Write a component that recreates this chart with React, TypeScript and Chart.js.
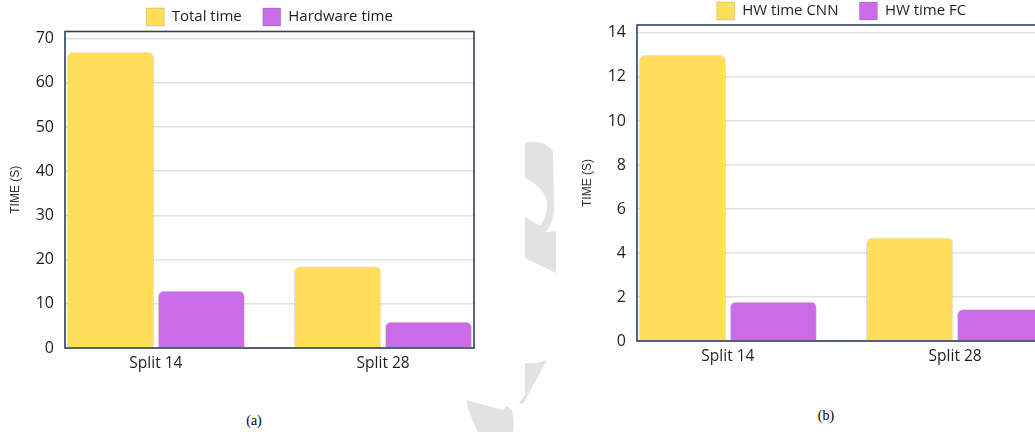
import { useEffect, useRef } from "react";
import { Chart, registerables } from "chart.js";

Chart.register(...registerables);

// ---- data ----
const splits = ["Split 14", "Split 28"];

// (a) end-to-end time vs. time spent on the accelerator
const totalTime = [67, 18.5];
const hardwareTime = [13, 6];
const yTicksA = [0, 10, 20, 30, 40, 50, 60, 70];
const yMaxA = 71.6;

// (b) hardware time broken down into CNN and FC parts
const hwTimeCnn = [13, 4.7];
const hwTimeFc = [1.8, 1.45];
const yTicksB = [0, 2, 4, 6, 8, 10, 12, 14];
const yMaxB = 14.36;

const YELLOW = "#FFDE59";
const PURPLE = "#CB6CE6";
const FRAME = "#2f405c";
const TEXT = "#1f1f1f";
const UI_FONT = "'Open Sans', sans-serif";

// Outline around the plot area, drawn on top of the bars.
const framePlugin = {
  id: "frame",
  afterDatasetsDraw(chart: any, _args: any, opts: any) {
    const { ctx, chartArea } = chart;
    const { left, top, right, bottom } = chartArea;
    ctx.save();
    ctx.strokeStyle = opts.color;
    ctx.lineWidth = opts.width;
    ctx.strokeRect(left, top, right - left, bottom - top);
    ctx.restore();
  },
};

type Series = { label: string; values: number[]; color: string };

type PanelSpec = {
  series: Series[];
  yTicks: number[];
  yMax: number;
  yAxisWidth: number;
  titlePad: number;
  legendHeight: number;
  bottomPad: number;
};

function buildConfig(spec: PanelSpec): any {
  return {
    type: "bar",
    data: {
      datasets: spec.series.map((s) => ({
        label: s.label,
        data: s.values.map((v, i) => ({ x: i, y: v })),
        backgroundColor: s.color,
        borderColor: "rgba(0,0,0,0.13)",
        borderWidth: 1,
        borderSkipped: "bottom",
        borderRadius: 6,
        categoryPercentage: 0.8,
        barPercentage: 0.96,
      })),
    },
    options: {
      animation: false,
      responsive: false,
      maintainAspectRatio: false,
      events: [],
      layout: { padding: { left: 0, right: 46, top: 0, bottom: spec.bottomPad } },
      plugins: {
        legend: {
          position: "top",
          fullSize: false,
          maxHeight: spec.legendHeight,
          labels: {
            boxWidth: 18,
            boxHeight: 18,
            padding: 21,
            color: TEXT,
            font: { family: UI_FONT, size: 15 },
          },
        },
        tooltip: { enabled: false },
        frame: { color: FRAME, width: 1.6 },
      },
      scales: {
        x: {
          type: "linear",
          offset: false,
          min: -0.4,
          max: 1.4,
          grid: { display: false, drawTicks: false, offset: false },
          border: { display: false },
          afterBuildTicks: (scale: any) => {
            scale.ticks = splits.map((_, i) => ({ value: i }));
          },
          afterFit: (scale: any) => {
            scale.height = 30;
          },
          ticks: {
            padding: 6,
            color: TEXT,
            font: { family: UI_FONT, size: 15.5 },
            callback: (_v: any, i: number) => splits[i],
          },
        },
        y: {
          type: "linear",
          min: 0,
          max: spec.yMax,
          grid: { color: "#e2e2e2", lineWidth: 1.5, drawTicks: false },
          border: { display: false },
          afterBuildTicks: (scale: any) => {
            scale.ticks = spec.yTicks.map((v) => ({ value: v }));
          },
          afterFit: (scale: any) => {
            scale.width = spec.yAxisWidth;
          },
          ticks: {
            padding: 11,
            color: TEXT,
            font: { family: UI_FONT, size: 16 },
          },
          title: {
            display: true,
            text: "TIME (S)",
            color: "#333333",
            font: { family: "'Liberation Sans', Arial, sans-serif", size: 12 },
            padding: { top: spec.titlePad, bottom: 0 },
          },
        },
      },
    },
    plugins: [framePlugin],
  };
}

function Panel(props: {
  spec: PanelSpec;
  left: number;
  top: number;
  width: number;
  height: number;
}) {
  const ref = useRef<HTMLCanvasElement | null>(null);
  useEffect(() => {
    if (!ref.current) return;
    const chart = new Chart(ref.current, buildConfig(props.spec));
    return () => chart.destroy();
  }, []);
  return (
    <canvas
      ref={ref}
      width={props.width}
      height={props.height}
      style={{
        position: "absolute",
        left: props.left,
        top: props.top,
        width: props.width,
        height: props.height,
        display: "block",
      }}
    />
  );
}

const panelA: PanelSpec = {
  series: [
    { label: "Total time", values: totalTime, color: YELLOW },
    { label: "Hardware time", values: hardwareTime, color: PURPLE },
  ],
  yTicks: yTicksA,
  yMax: yMaxA,
  yAxisWidth: 65,
  titlePad: 8.8,
  legendHeight: 44.5,
  bottomPad: 9,
};

const panelB: PanelSpec = {
  series: [
    { label: "HW time CNN", values: hwTimeCnn, color: YELLOW },
    { label: "HW time FC", values: hwTimeFc, color: PURPLE },
  ],
  yTicks: yTicksB,
  yMax: yMaxB,
  yAxisWidth: 77,
  titlePad: 20.8,
  legendHeight: 44,
  bottomPad: 10,
};

const captionStyle = (x: number, y: number): any => ({
  position: "absolute",
  left: x,
  top: y,
  transform: "translate(-50%, -50%)",
  fontFamily: "'Liberation Serif', 'Times New Roman', serif",
  fontSize: 14,
  color: "#000",
  whiteSpace: "nowrap",
});

export default function App() {
  return (
    <div
      style={{
        position: "fixed",
        left: 0,
        top: 0,
        width: 1035,
        height: 432,
        overflow: "hidden",
        background: "#ffffff",
      }}
    >
      {/* faint background emblem between the panels */}
      <svg
        width={1035}
        height={432}
        style={{ position: "absolute", left: 0, top: 0 }}
      >
        <g fill="#e2e2e2">
          <path d="M525,143 C535,140 547,143 553,151 L554,212 C553,220 550,226 546,232 L539,228 C546,218 549,208 546,198 C541,188 534,182 525,178 Z" />
          <path d="M525,217 L542,227 L546,232 L556,231 L556,273 L525,258 Z" />
          <path d="M525,363 Q537,364 547,360 L523,404 L519,403 L525,395 Z" />
          <path d="M466,400 L503,410 L507,406 L512,410 C514,418 514,426 513,432 L478,432 C472,420 468,410 466,400 Z" />
        </g>
      </svg>
      <Panel spec={panelA} left={0} top={-13} width={520} height={400} />
      <Panel spec={panelB} left={560} top={-19} width={532} height={400} />
      <div style={captionStyle(254, 421)}>(a)</div>
      <div style={captionStyle(826, 416)}>(b)</div>
    </div>
  );
}
